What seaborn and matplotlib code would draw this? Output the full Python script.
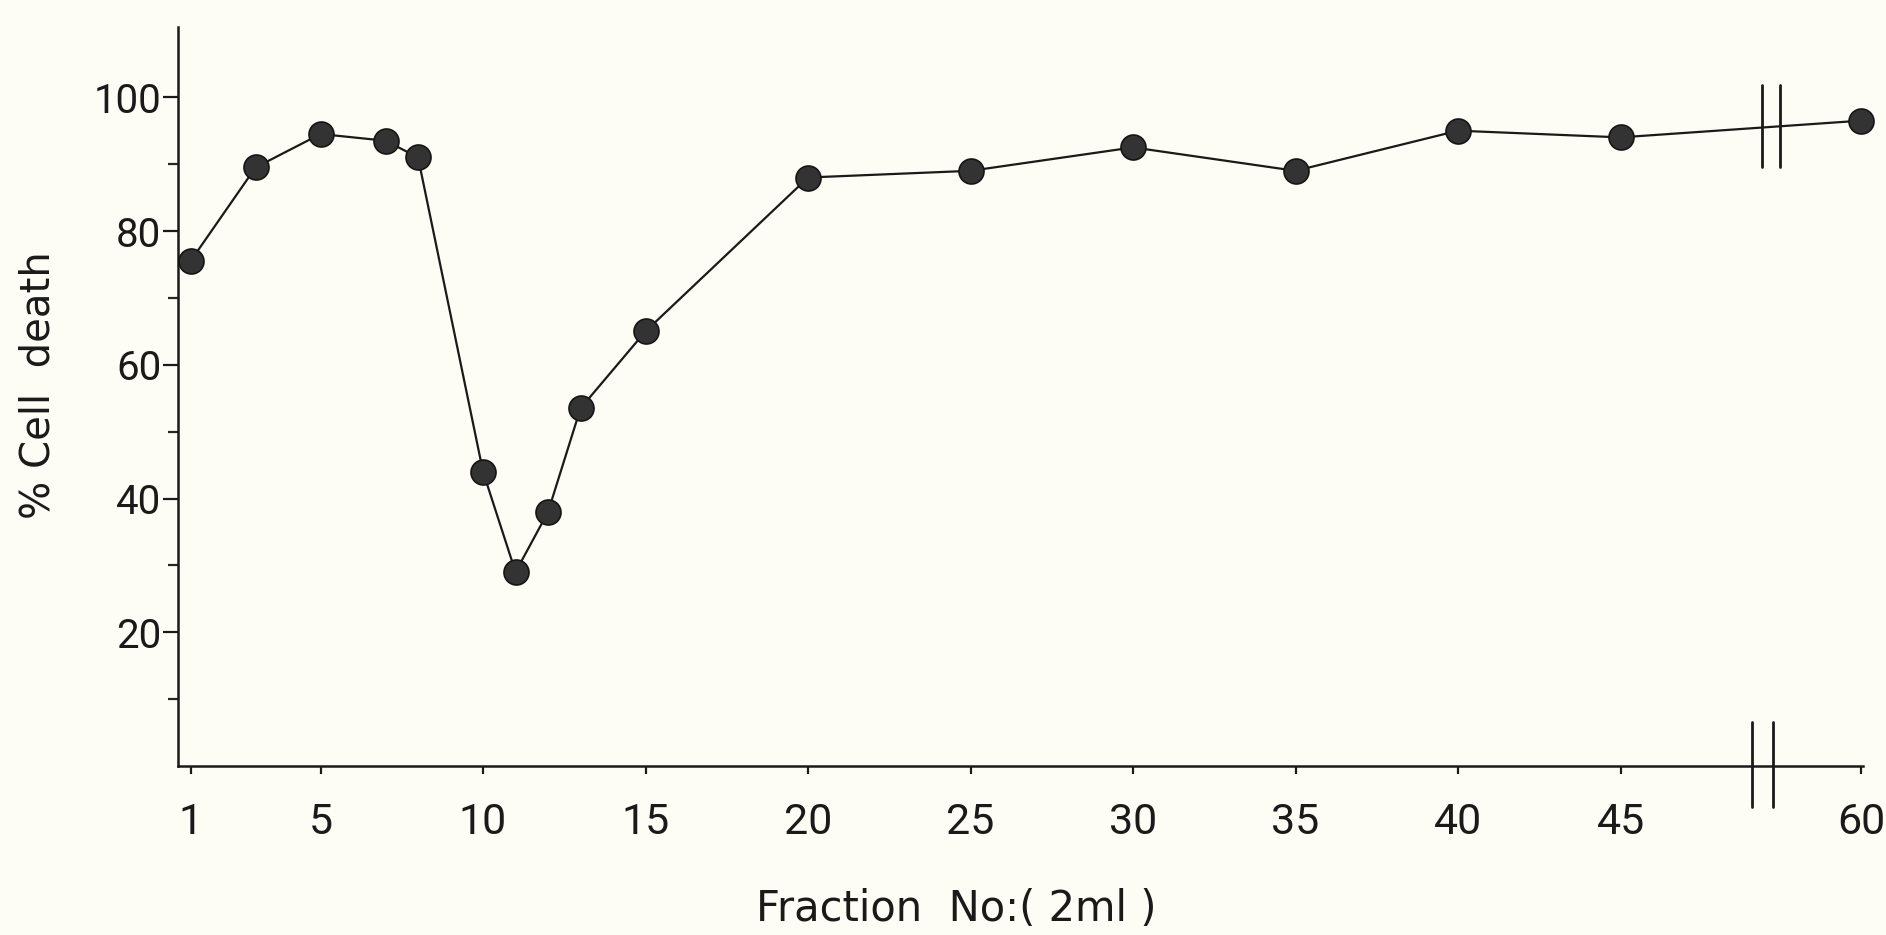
import numpy as np
import pandas as pd
import matplotlib
matplotlib.use("Agg")
import matplotlib.pyplot as plt
import matplotlib.transforms as mtransforms
import seaborn as sns

# ---- data ----
fraction = [1, 3, 5, 7, 8, 10, 11, 12, 13, 15, 20, 25, 30, 35, 40, 45, 60]
cell_death = [75.5, 89.5, 94.5, 93.5, 91, 44, 29, 38, 53.5, 65, 88, 89, 92.5, 89, 95, 94, 96.5]
x_ticks = [1, 5, 10, 15, 20, 25, 30, 35, 40, 45, 60]
x_tick_labels = ["1", "5", "10", "15", "20", "25", "30", "35", "40", "45", "60"]
y_major = [20, 40, 60, 80, 100]
y_minor = [10, 30, 50, 70, 90]

# broken x axis: fractions beyond 48 are compressed
BREAK_START = 48.0
COMPRESS = 0.3667


def fwd(x):
    x = np.asarray(x, dtype=float)
    return np.where(x <= BREAK_START, x, BREAK_START + (x - BREAK_START) * COMPRESS)


def inv(u):
    u = np.asarray(u, dtype=float)
    return np.where(u <= BREAK_START, u, BREAK_START + (u - BREAK_START) / COMPRESS)


df = pd.DataFrame({"fraction": fraction, "cell_death": cell_death})

sns.set_style("ticks")
plt.rcParams["font.family"] = ["Roboto", "DejaVu Sans"]

BG = "#fdfdf6"
INK = "#1a1a1a"
fig = plt.figure(figsize=(18.86, 9.35), dpi=100, facecolor=BG)
ax = fig.add_axes([0.0944, 0.1807, 0.8934, 0.7904], facecolor=BG)

sns.lineplot(data=df, x="fraction", y="cell_death", ax=ax, estimator=None,
             color=INK, linewidth=1.6, marker="o", markersize=18,
             markerfacecolor="#333333", markeredgecolor="#151515",
             markeredgewidth=1.2, clip_on=False, zorder=3)

ax.set_xscale("function", functions=(fwd, inv))
ax.set_xlim(0.615, 60.16)
ax.set_ylim(0, 110.5)

ax.set_xticks(x_ticks)
ax.set_xticklabels(x_tick_labels)
ax.set_yticks(y_major)
ax.set_yticks(y_minor, minor=True)
ax.xaxis.set_minor_locator(matplotlib.ticker.NullLocator())

ax.tick_params(axis="x", which="major", direction="out", length=6, width=1.6,
               pad=20, labelsize=31, colors=INK)
ax.tick_params(axis="y", which="major", direction="out", length=11, width=1.6,
               pad=1, labelsize=29, colors=INK)
ax.tick_params(axis="y", which="minor", direction="out", length=7, width=1.6)

for s in ["top", "right"]:
    ax.spines[s].set_visible(False)
for s in ["left", "bottom"]:
    ax.spines[s].set_linewidth(1.8)
    ax.spines[s].set_color(INK)

ax.set_xlabel("Fraction  No:( 2ml )", fontsize=30, color=INK, family="DejaVu Sans")
ax.set_ylabel("% Cell  death", fontsize=29, color=INK, family="DejaVu Sans")
ax.xaxis.set_label_coords(0.462, -0.165)
ax.yaxis.set_label_coords(-0.071, 0.516)

# axis break marks
trans = mtransforms.blended_transform_factory(ax.transData, ax.transAxes)
for u in (49.05, 49.7):
    xb = float(inv(u))
    ax.plot([xb, xb], [-0.056, 0.06], transform=trans, color=INK,
            lw=2.0, clip_on=False, zorder=4)
for u in (49.35, 49.9):
    xb = float(inv(u))
    ax.plot([xb, xb], [89.5, 101.8], color=INK, lw=2.0,
            clip_on=False, zorder=4)

fig.savefig("out.png", dpi=100, facecolor=BG)
